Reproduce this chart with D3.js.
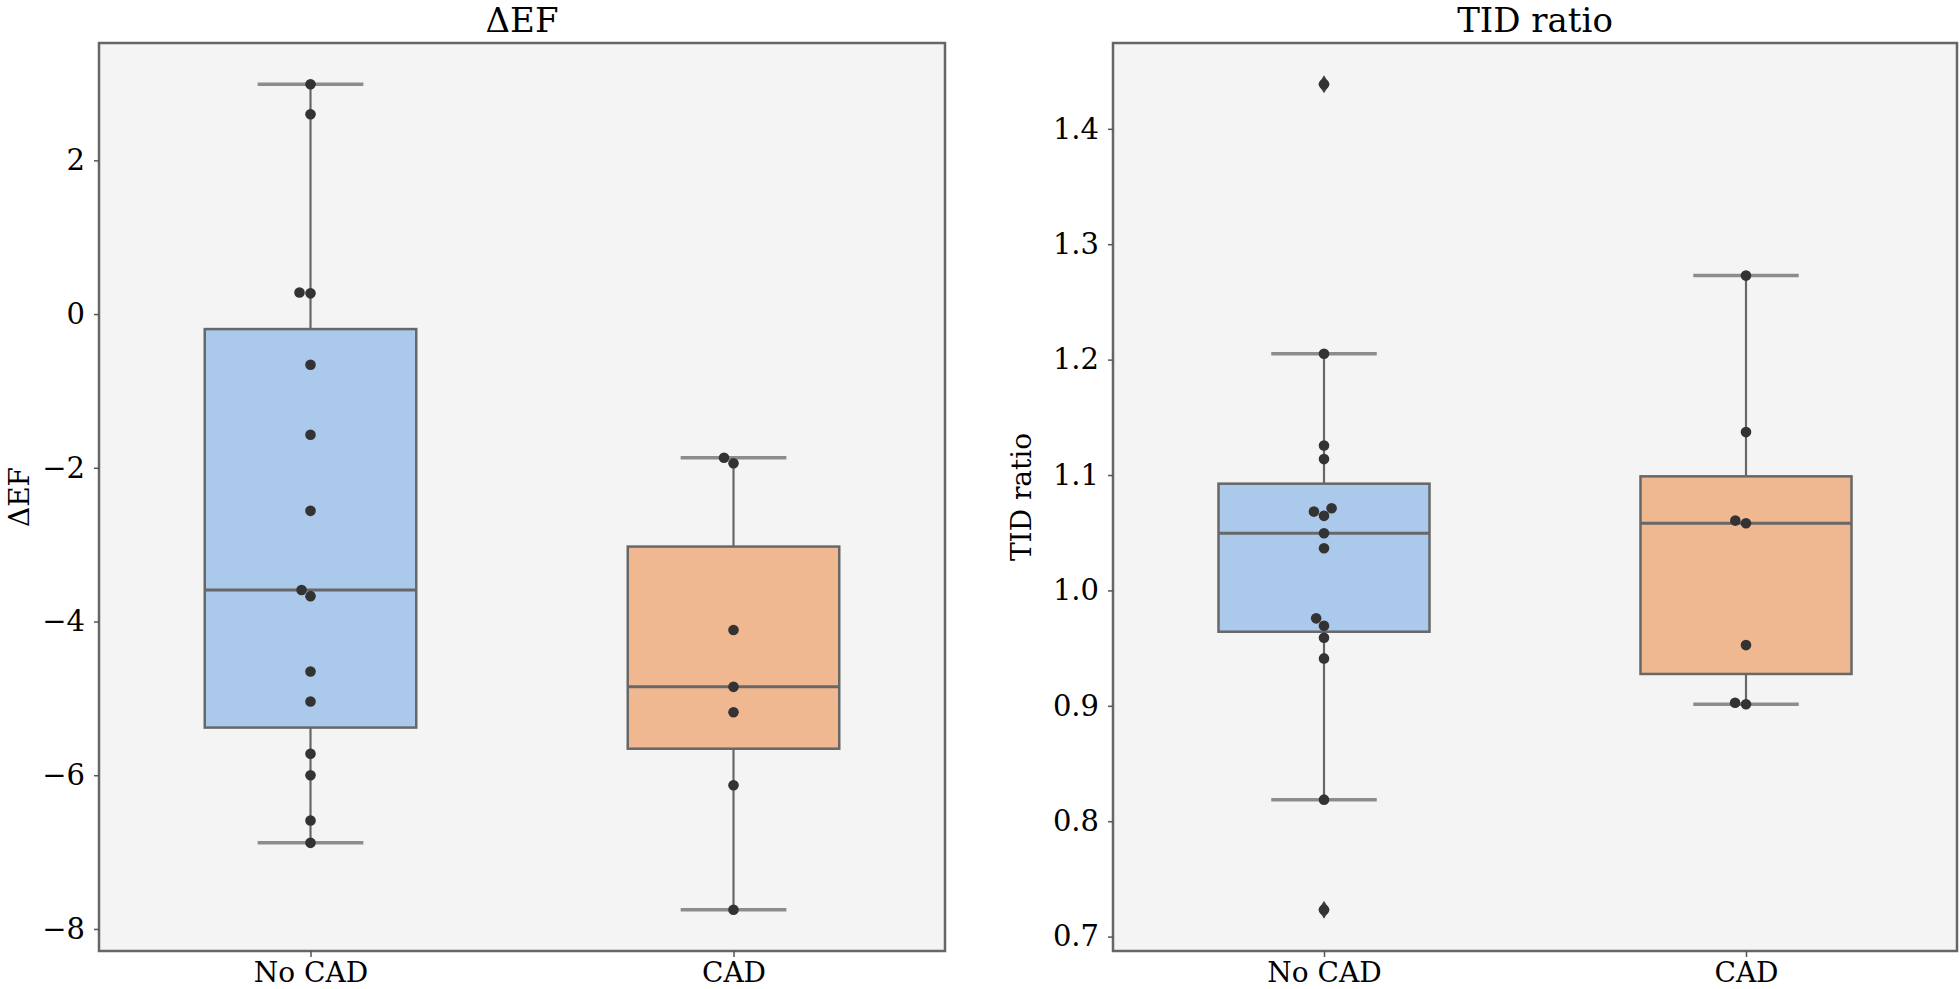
<!DOCTYPE html>
<html>
<head>
<meta charset="utf-8">
<script src="https://cdn.jsdelivr.net/npm/d3@7"></script>
<style>
  html, body { margin: 0; padding: 0; background: #ffffff; }
  svg { display: block; }
  text { font-family: "DejaVu Serif", serif; fill: #000; }
</style>
</head>
<body>
<svg id="chart" width="1960" height="989"></svg>
<script>
// ---------------- data ----------------
const categories = ["No CAD", "CAD"];

const efNoCAD = [2.99, 2.60, 0.28, 0.27, -0.66, -1.57, -2.56, -3.59, -3.67, -4.65, -5.04, -5.72, -6.00, -6.59, -6.88];
const efCAD   = [-1.87, -1.94, -4.11, -4.85, -5.18, -6.13, -7.75];

const tidNoCAD = [1.4386, 1.2051, 1.1256, 1.1138, 1.0712, 1.0683, 1.0646, 1.0495, 1.0365, 0.9758, 0.9694, 0.9590, 0.9411, 0.8187, 0.7233];
const tidCAD   = [1.2728, 1.1372, 1.0605, 1.0582, 0.9526, 0.9026, 0.9014];

const efTicks  = [-8, -6, -4, -2, 0, 2];
const tidTicks = [0.7, 0.8, 0.9, 1.0, 1.1, 1.2, 1.3, 1.4];

const panelTitles = ["\u0394EF", "TID ratio"];
const panelYLabels = ["\u0394EF", "TID ratio"];

// ---------------- style ----------------
const boxFills = ["#abc9eb", "#f0b891"];
const axesBg = "#f4f4f4";
const lineGray = "#676767";

const svg = d3.select("#chart");

function boxStats(values) {
  const s = values.slice().sort(d3.ascending);
  const q1 = d3.quantileSorted(s, 0.25);
  const med = d3.quantileSorted(s, 0.5);
  const q3 = d3.quantileSorted(s, 0.75);
  const iqr = q3 - q1;
  const lo = q1 - 1.5 * iqr, hi = q3 + 1.5 * iqr;
  const inside = s.filter(v => v >= lo && v <= hi);
  return {
    q1, med, q3,
    wlo: d3.min(inside), whi: d3.max(inside),
    fliers: s.filter(v => v < lo || v > hi)
  };
}

// seaborn-like beeswarm (process ascending, prefer smallest offset, left first)
function swarm(values, cx, y, d) {
  const order = values.map((v, i) => ({ v, i })).sort((a, b) => a.v - b.v);
  const placed = [];
  order.forEach(p => {
    const py = y(p.v);
    const cands = [cx];
    placed.forEach(q => {
      const dy = py - q.y;
      if (Math.abs(dy) < d) {
        const dx = Math.sqrt(Math.max(d * d - dy * dy, 0)) * 1.05;
        cands.push(q.x - dx, q.x + dx);
      }
    });
    const sorted = cands.map((x, k) => ({ x, k }))
      .sort((a, b) => (Math.abs(a.x - cx) - Math.abs(b.x - cx)) || (a.x - b.x));
    let chosen = cx;
    for (const c of sorted) {
      const ok = placed.every(q => {
        const dx = c.x - q.x, dy = py - q.y;
        return dx * dx + dy * dy >= d * d * 0.999;
      });
      if (ok) { chosen = c.x; break; }
    }
    placed.push({ x: chosen, y: py, v: p.v });
  });
  return placed;
}

function drawPanel(cfg) {
  const { left, right, top, bottom, groups, ticks, fmt, title, ylabel, ylabelX } = cfg;
  const g = svg.append("g");

  const all = groups.flat();
  const mn = d3.min(all), mx = d3.max(all);
  const pad = (mx - mn) * 0.05;
  const y = d3.scaleLinear().domain([mn - pad, mx + pad]).range([bottom, top]);
  const x = d3.scalePoint().domain(categories).range([left, right]).padding(0.5);
  const boxW = x.step() * 0.5;

  // background
  g.append("rect").attr("x", left).attr("y", top)
    .attr("width", right - left).attr("height", bottom - top)
    .attr("fill", axesBg);

  const clip = g.append("g");

  groups.forEach((vals, gi) => {
    const cat = categories[gi];
    const cx = x(cat);
    const st = boxStats(vals);

    // whiskers
    clip.append("line").attr("x1", cx).attr("x2", cx)
      .attr("y1", y(st.q3)).attr("y2", y(st.whi))
      .attr("stroke", lineGray).attr("stroke-width", 2.2);
    clip.append("line").attr("x1", cx).attr("x2", cx)
      .attr("y1", y(st.q1)).attr("y2", y(st.wlo))
      .attr("stroke", lineGray).attr("stroke-width", 2.2);
    // caps
    [st.whi, st.wlo].forEach(v => {
      clip.append("line").attr("x1", cx - boxW / 4).attr("x2", cx + boxW / 4)
        .attr("y1", y(v)).attr("y2", y(v))
        .attr("stroke", "#8c8c8c").attr("stroke-width", 3.5);
    });
    // box
    clip.append("rect").attr("x", cx - boxW / 2).attr("y", y(st.q3))
      .attr("width", boxW).attr("height", y(st.q1) - y(st.q3))
      .attr("fill", boxFills[gi]).attr("stroke", lineGray).attr("stroke-width", 2.5);
    // median
    clip.append("line").attr("x1", cx - boxW / 2).attr("x2", cx + boxW / 2)
      .attr("y1", y(st.med)).attr("y2", y(st.med))
      .attr("stroke", lineGray).attr("stroke-width", 3);
    // fliers (thin diamonds)
    st.fliers.forEach(v => {
      const fy = y(v), w = 5.5, h = 9;
      clip.append("path")
        .attr("d", `M${cx},${fy - h}L${cx + w},${fy}L${cx},${fy + h}L${cx - w},${fy}Z`)
        .attr("fill", "#3f3f3f");
    });
    // swarm points
    const pts = swarm(vals, cx, y, 10.5);
    clip.selectAll(null).data(pts).enter().append("circle")
      .attr("cx", d => d.x).attr("cy", d => d.y).attr("r", 5.3)
      .attr("fill", "#333333");
  });

  // frame
  g.append("rect").attr("x", left).attr("y", top)
    .attr("width", right - left).attr("height", bottom - top)
    .attr("fill", "none").attr("stroke", "#666666").attr("stroke-width", 2.5);

  // y axis
  const ya = g.append("g").attr("transform", `translate(${left},0)`)
    .call(d3.axisLeft(y).tickValues(ticks).tickFormat(fmt).tickSize(5).tickPadding(9));
  ya.select(".domain").remove();
  ya.selectAll(".tick line").attr("stroke", "#555").attr("stroke-width", 1.5);
  ya.selectAll(".tick text").attr("font-size", 29).attr("font-family", "DejaVu Serif").attr("fill", "#000");

  // x axis
  const xa = g.append("g").attr("transform", `translate(0,${bottom})`)
    .call(d3.axisBottom(x).tickSize(6).tickPadding(5));
  xa.select(".domain").remove();
  xa.selectAll(".tick line").attr("stroke", "#555").attr("stroke-width", 1.5);
  xa.selectAll(".tick text").attr("font-size", 28).attr("font-family", "DejaVu Serif")
    .attr("fill", "#000").attr("dy", null).attr("y", 31);

  // title
  g.append("text").attr("x", (left + right) / 2).attr("y", 32)
    .attr("text-anchor", "middle").attr("font-size", 34).text(title);

  // y label
  g.append("text")
    .attr("transform", `translate(${ylabelX},${(top + bottom) / 2}) rotate(-90)`)
    .attr("text-anchor", "middle").attr("font-size", 28).text(ylabel);
}

drawPanel({
  left: 99, right: 945, top: 43, bottom: 951,
  groups: [efNoCAD, efCAD], ticks: efTicks, fmt: d3.format("d"),
  title: panelTitles[0], ylabel: panelYLabels[0], ylabelX: 29
});
drawPanel({
  left: 1113, right: 1957, top: 43, bottom: 951,
  groups: [tidNoCAD, tidCAD], ticks: tidTicks, fmt: d3.format(".1f"),
  title: panelTitles[1], ylabel: panelYLabels[1], ylabelX: 1031
});
</script>
</body>
</html>
